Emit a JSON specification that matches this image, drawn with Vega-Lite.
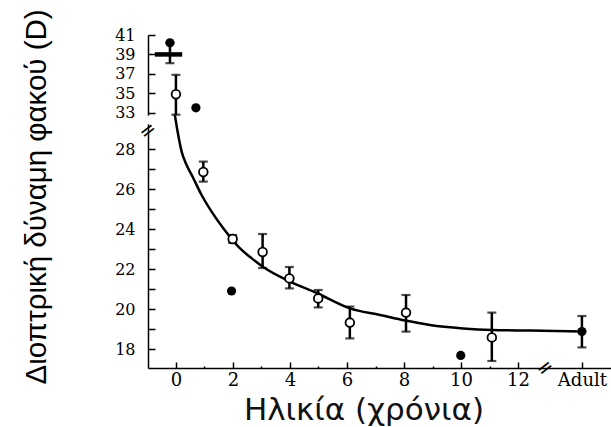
{
  "$schema": "https://vega.github.io/schema/vega-lite/v6.json",
  "width": 463,
  "height": 333,
  "autosize": {"type": "none"},
  "padding": {"left": 148, "top": 35, "right": 0, "bottom": 59},
  "background": "white",
  "config": {"view": {"stroke": null}},
  "datasets": {
    "curve": [
      {"age": -0.04, "d": 32.8}, {"age": 0.08, "d": 28.7}, {"age": 0.2, "d": 27.87},
      {"age": 0.375, "d": 27.2}, {"age": 0.61, "d": 26.54}, {"age": 0.9, "d": 25.7},
      {"age": 1.25, "d": 24.87}, {"age": 1.66, "d": 24.04}, {"age": 2.25, "d": 23.03},
      {"age": 2.66, "d": 22.53}, {"age": 3.06, "d": 22.1}, {"age": 4.0, "d": 21.37},
      {"age": 4.94, "d": 20.8}, {"age": 6.1, "d": 20.03}, {"age": 7.16, "d": 19.7},
      {"age": 8.04, "d": 19.42}, {"age": 8.91, "d": 19.2}, {"age": 10.07, "d": 19.03},
      {"age": 11.08, "d": 18.95}, {"age": 12.42, "d": 18.92}, {"age": 14.24, "d": 18.87}
    ],
    "open": [
      {"age": 0, "d": 34.9}, {"age": 0.96, "d": 26.85}, {"age": 1.99, "d": 23.5},
      {"age": 3.04, "d": 22.85}, {"age": 3.98, "d": 21.53}, {"age": 4.99, "d": 20.53},
      {"age": 6.1, "d": 19.32}, {"age": 8.07, "d": 19.82}, {"age": 11.08, "d": 18.58}
    ],
    "filled": [
      {"age": -0.21, "d": 40.2}, {"age": 0.7, "d": 33.5}, {"age": 1.95, "d": 20.9},
      {"age": 9.99, "d": 17.68}, {"age": 14.24, "d": 18.87}
    ],
    "bars": [
      {"age": 0, "lo": 32.8, "hi": 36.9}, {"age": 0.96, "lo": 26.37, "hi": 27.37},
      {"age": 1.99, "lo": 23.3, "hi": 23.7}, {"age": 3.04, "lo": 22.05, "hi": 23.75},
      {"age": 3.98, "lo": 21.03, "hi": 22.1}, {"age": 4.99, "lo": 20.08, "hi": 20.95},
      {"age": 6.1, "lo": 18.53, "hi": 20.12}, {"age": 8.07, "lo": 18.87, "hi": 20.7},
      {"age": 11.08, "lo": 17.4, "hi": 19.82}, {"age": -0.21, "lo": 38.1, "hi": 40.2},
      {"age": 14.24, "lo": 18.08, "hi": 19.65}
    ],
    "hbar": [{"xlo": -0.74, "xhi": 0.22, "d": 39.0}],
    "gap": [{"age": -0.98, "lo": 30.8, "hi": 32.7}],
    "breaks": [{"age": -0.98, "d": 29.3}, {"age": 12.95, "d": 17.05}]
  },
  "layer": [
    {
      "data": {"name": "gap"},
      "mark": {"type": "rule", "color": "white", "strokeWidth": 4},
      "encoding": {
        "x": {
          "field": "age", "type": "quantitative",
          "scale": {"domain": [-0.98, 15.26], "nice": false, "zero": false},
          "axis": {
            "values": [0, 1, 2, 3, 4, 5, 6, 7, 8, 9, 10, 11, 12, 14.24],
            "tickCount": 60, "format": "d",
            "labelExpr": "datum.value > 13 ? 'Adult' : (datum.value % 2 == 1 ? '' : datum.label)",
            "tickSize": {"condition": {"test": "datum.value % 2 == 1", "value": -2}, "value": -6},
            "tickWidth": 1.5, "tickColor": "black",
            "domainColor": "black", "domainWidth": 1.5,
            "labelFont": "DejaVu Serif", "labelFontSize": 18, "labelColor": "black",
            "labelBaseline": "alphabetic", "labelPadding": 23,
            "labelFlush": false, "labelOverlap": false, "grid": false,
            "title": "Ηλικία (χρόνια)", "titleFont": "DejaVu Sans", "titleFontSize": 31,
            "titleFontWeight": "normal", "titleColor": "#111111",
            "titleX": 215.5, "titleY": 51, "titleBaseline": "alphabetic", "titleAlign": "center"
          }
        },
        "y": {
          "field": "lo", "type": "quantitative",
          "scale": {"domain": [17.05, 28.8, 32.6, 41], "range": [333, 98, 81.6, 0], "nice": false, "zero": false},
          "axis": {
            "values": [18, 19, 20, 21, 22, 23, 24, 25, 26, 27, 28, 33, 35, 37, 39, 41],
            "tickCount": 60, "format": "d",
            "labelExpr": "datum.value < 30 && datum.value % 2 == 1 ? '' : datum.label",
            "tickSize": -7, "tickWidth": 1.5, "tickColor": "black",
            "domainColor": "black", "domainWidth": 1.5,
            "labelFont": "DejaVu Serif", "labelFontSize": 16, "labelColor": "black",
            "labelPadding": 20, "labelOverlap": false, "grid": false,
            "title": "Διοπτρική δύναμη φακού (D)", "titleFont": "Liberation Sans", "titleFontSize": 29.5,
            "titleFontWeight": "normal", "titleColor": "black", "titleAngle": 270,
            "titleX": -103, "titleY": 161.5, "titleBaseline": "alphabetic", "titleAlign": "center"
          }
        },
        "y2": {"field": "hi"}
      }
    },
    {
      "data": {"name": "curve"},
      "mark": {"type": "line", "color": "black", "strokeWidth": 2.5, "interpolate": "monotone"},
      "encoding": {
        "x": {"field": "age", "type": "quantitative"},
        "y": {"field": "d", "type": "quantitative"}
      }
    },
    {
      "data": {"name": "bars"},
      "mark": {"type": "rule", "color": "black", "strokeWidth": 2.5},
      "encoding": {
        "x": {"field": "age", "type": "quantitative"},
        "y": {"field": "lo", "type": "quantitative"},
        "y2": {"field": "hi"}
      }
    },
    {
      "data": {"name": "bars"},
      "mark": {"type": "tick", "orient": "horizontal", "color": "black", "size": 9, "thickness": 2.2},
      "encoding": {
        "x": {"field": "age", "type": "quantitative"},
        "y": {"field": "lo", "type": "quantitative"}
      }
    },
    {
      "data": {"name": "bars"},
      "mark": {"type": "tick", "orient": "horizontal", "color": "black", "size": 9, "thickness": 2.2},
      "encoding": {
        "x": {"field": "age", "type": "quantitative"},
        "y": {"field": "hi", "type": "quantitative"}
      }
    },
    {
      "data": {"name": "hbar"},
      "mark": {"type": "rule", "color": "black", "strokeWidth": 4.5},
      "encoding": {
        "x": {"field": "xlo", "type": "quantitative"},
        "x2": {"field": "xhi"},
        "y": {"field": "d", "type": "quantitative"}
      }
    },
    {
      "data": {"name": "open"},
      "mark": {"type": "point", "shape": "circle", "filled": false, "fill": "white", "fillOpacity": 1, "stroke": "black", "strokeWidth": 1.8, "size": 75, "opacity": 1},
      "encoding": {
        "x": {"field": "age", "type": "quantitative"},
        "y": {"field": "d", "type": "quantitative"}
      }
    },
    {
      "data": {"name": "filled"},
      "mark": {"type": "circle", "color": "black", "size": 85, "opacity": 1},
      "encoding": {
        "x": {"field": "age", "type": "quantitative"},
        "y": {"field": "d", "type": "quantitative"}
      }
    },
    {
      "data": {"name": "breaks"},
      "mark": {"type": "text", "text": "=", "font": "DejaVu Sans", "fontSize": 20, "angle": -38, "align": "center", "baseline": "middle", "color": "black"},
      "encoding": {
        "x": {"field": "age", "type": "quantitative"},
        "y": {"field": "d", "type": "quantitative"}
      }
    }
  ]
}
